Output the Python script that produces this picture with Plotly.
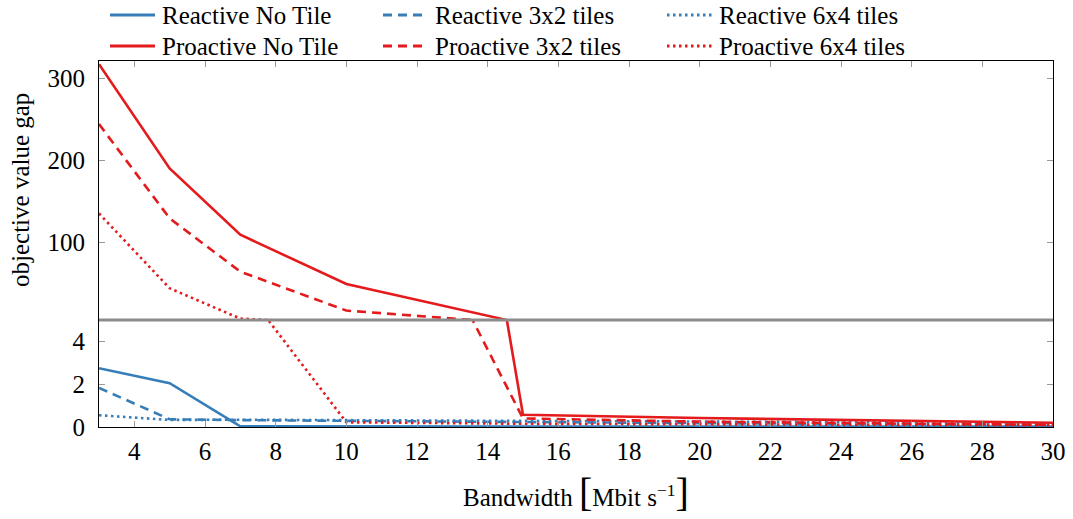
import plotly.graph_objects as go
from plotly.subplots import make_subplots

bandwidth = [3, 5, 7, 10, 15, 20, 25, 30]

series_names = [
    "Reactive No Tile", "Reactive 3x2 tiles", "Reactive 6x4 tiles",
    "Proactive No Tile", "Proactive 3x2 tiles", "Proactive 6x4 tiles",
]
reactive_no_tile = [2.75, 2.05, 0.03, 0.02, 0.02, 0.02, 0.02, 0.02]
reactive_3x2 = [1.83, 0.36, 0.32, 0.28, 0.22, 0.18, 0.14, 0.10]
reactive_6x4 = [0.55, 0.33, 0.34, 0.32, 0.30, 0.26, 0.22, 0.16]
proactive_no_tile = [317, 190, 109, 49, 0.57, 0.42, 0.30, 0.20]
proactive_3x2 = [244, 129, 64, 16.5, 0.40, 0.25, 0.18, 0.10]
proactive_6x4 = [135, 43.7, 6.7, 0.22, 0.15, 0.12, 0.10, 0.08]

series_values = [reactive_no_tile, reactive_3x2, reactive_6x4,
                 proactive_no_tile, proactive_3x2, proactive_6x4]

x_ticks = [4, 6, 8, 10, 12, 14, 16, 18, 20, 22, 24, 26, 28, 30]
upper_ticks = [100, 200, 300]
lower_ticks = [0, 2, 4]

BLUE = "#377eb8"
RED = "#e41a1c"
colors = [BLUE, BLUE, BLUE, RED, RED, RED]
dashes = ["solid", "9px,6px", "2.5px,3.5px", "solid", "9px,6px", "2.5px,3.5px"]
FONT = "Liberation Serif"
FS = 25

W, H = 1073, 519
ML, MR, MT, MB = 99, 20, 61, 92
PW, PH = W - ML - MR, H - MT - MB


def px_x(px):
    return (px - ML) / PW


def px_y(py):
    return (H - MB - py) / PH


fig = make_subplots(rows=2, cols=1, shared_xaxes=True, vertical_spacing=0,
                    row_heights=[259, 107])

for i, (name, vals) in enumerate(zip(series_names, series_values)):
    for row in (1, 2):
        fig.add_trace(go.Scatter(
            x=bandwidth, y=vals, mode="lines", name=name,
            line=dict(color=colors[i], width=2.6, dash=dashes[i]),
            showlegend=False, legendgroup=name,
        ), row=row, col=1)

# legend (drawn as samples + text), 3 columns x 2 rows
leg_line_x = [110, 383, 667]
leg_row_y = [15, 46]
for i, name in enumerate(series_names):
    cx = leg_line_x[i % 3]
    ry = leg_row_y[i // 3]
    fig.add_shape(type="line", xref="paper", yref="paper",
                  x0=px_x(cx), x1=px_x(cx + 45), y0=px_y(ry), y1=px_y(ry),
                  line=dict(color=colors[i], width=2.8, dash=dashes[i]))
    fig.add_annotation(text=name, xref="paper", yref="paper",
                       x=px_x(cx + 50), y=px_y(ry), xanchor="left", yanchor="middle",
                       showarrow=False, font=dict(family=FONT, size=FS, color="black"))

axis_common = dict(showline=True, linecolor="black", linewidth=1.2,
                   ticks="inside", ticklen=6, tickcolor="#999", tickwidth=1.2,
                   showgrid=False, zeroline=False,
                   tickfont=dict(family=FONT, size=FS, color="black"))

fig.update_xaxes(range=[3, 30], tickvals=x_ticks, **axis_common)
fig.update_xaxes(row=1, col=1, side="top", showticklabels=False, mirror=True)
fig.update_xaxes(row=2, col=1, mirror=True, ticklabelstandoff=2)
fig.update_yaxes(row=1, col=1, range=[5, 321], tickvals=upper_ticks, mirror="ticks",
                 ticklabelstandoff=8, **axis_common)
fig.update_yaxes(row=2, col=1, range=[0, 5], tickvals=lower_ticks, mirror="ticks",
                 ticklabelstandoff=8, **axis_common)

fig.add_shape(type="line", xref="paper", yref="paper", x0=0, x1=1,
              y0=107 / 366, y1=107 / 366, line=dict(color="#8c8c8c", width=3.2), layer="above")

fig.add_annotation(text="objective value gap", textangle=-90, xref="paper", yref="paper",
                   x=px_x(21), y=px_y(190), xanchor="center", yanchor="middle", showarrow=False,
                   font=dict(family=FONT, size=FS, color="black"))

fig.add_annotation(
    text="Bandwidth <span style='font-size:40px'>[</span>Mbit s<sup>−1</sup><span style='font-size:40px'>]</span>",
    xref="paper", yref="paper", x=px_x(576), y=px_y(517), xanchor="center", yanchor="bottom",
    showarrow=False, font=dict(family=FONT, size=FS, color="black"))

fig.update_layout(width=W, height=H,
                  margin=dict(l=ML, r=MR, t=MT, b=MB, autoexpand=False),
                  font=dict(family=FONT, size=FS, color="black"),
                  plot_bgcolor="white", paper_bgcolor="white", showlegend=False)

fig.write_html("out.html")
